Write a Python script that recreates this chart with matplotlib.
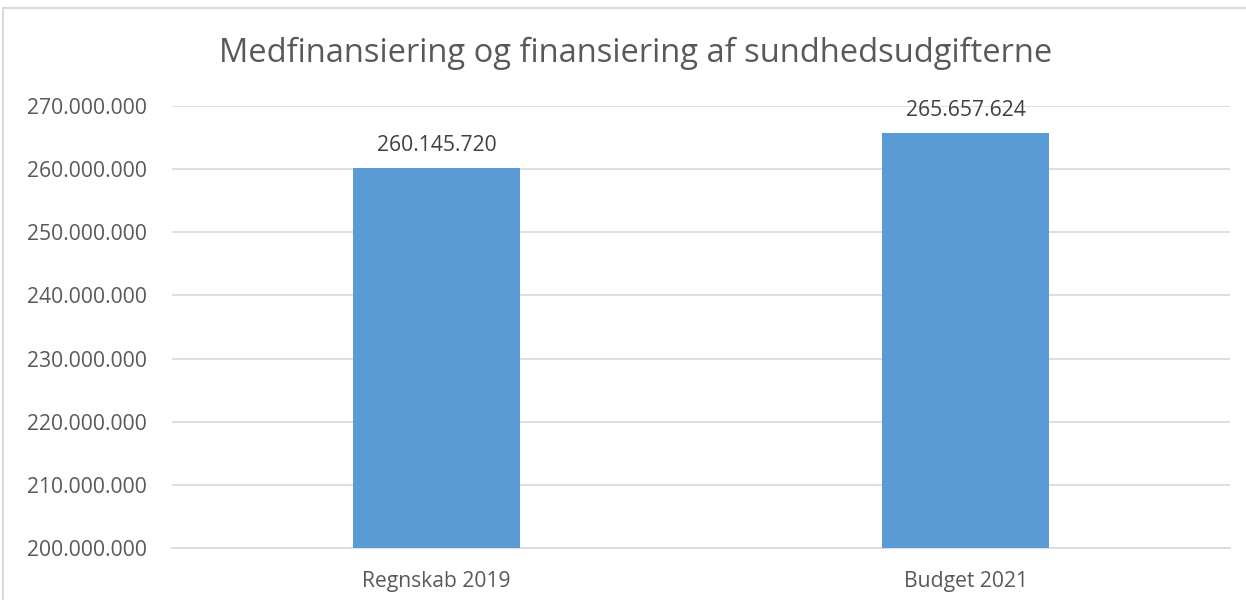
import matplotlib.pyplot as plt
from matplotlib.patches import Rectangle
from matplotlib.ticker import FuncFormatter

categories = ['Regnskab 2019', 'Budget 2021']
values = [260145720, 265657624]
y_ticks = [200000000, 210000000, 220000000, 230000000, 240000000,
           250000000, 260000000, 270000000]


def dk_format(v, pos=None):
    """tusindtalsseparator med punktum"""
    return f'{int(round(v)):,}'.replace(',', '.')


plt.rcParams['font.family'] = ['Open Sans', 'DejaVu Sans']

fig = plt.figure(figsize=(12.46, 6), dpi=100)
ax = fig.add_axes([172 / 1246, 1 - 548 / 600, (1230 - 172) / 1246, (548 - 106) / 600])

x = range(len(categories))
bars = ax.bar(x, values, width=0.314, color='#5b9bd5', zorder=3)

ax.set_xlim(-0.5, 1.5)
ax.set_ylim(200000000, 270000000)
ax.set_yticks(y_ticks)
ax.yaxis.set_major_formatter(FuncFormatter(dk_format))
ax.set_xticks(list(x))
ax.set_xticklabels(categories)

ax.grid(axis='y', color='#d9d9d9', linewidth=1.2, zorder=0)
for side in ['left', 'right', 'top']:
    ax.spines[side].set_visible(False)
ax.spines['bottom'].set_color('#d9d9d9')
ax.spines['bottom'].set_linewidth(1.2)
ax.tick_params(axis='both', length=0, labelsize=15.2, colors='#595959')
ax.tick_params(axis='y', pad=18)
ax.tick_params(axis='x', pad=16.5)

for b, v in zip(bars, values):
    ax.annotate(dk_format(v), (b.get_x() + b.get_width() / 2, v),
                xytext=(0, 9), textcoords='offset points',
                ha='center', va='bottom', fontsize=15.2, color='#404040')

fig.text(636 / 1246, 1 - 53 / 600, 'Medfinansiering og finansiering af sundhedsudgifterne',
         ha='center', va='center', fontsize=23.5, color='#595959')

# ramme om diagrammet
fig.patches.append(Rectangle((3 / 1246, -0.1), 1.2, 1 - 8 / 600 + 0.1,
                             transform=fig.transFigure, fill=False,
                             edgecolor='#d9d9d9', linewidth=1.5))

fig.savefig('out.png', dpi=100)
